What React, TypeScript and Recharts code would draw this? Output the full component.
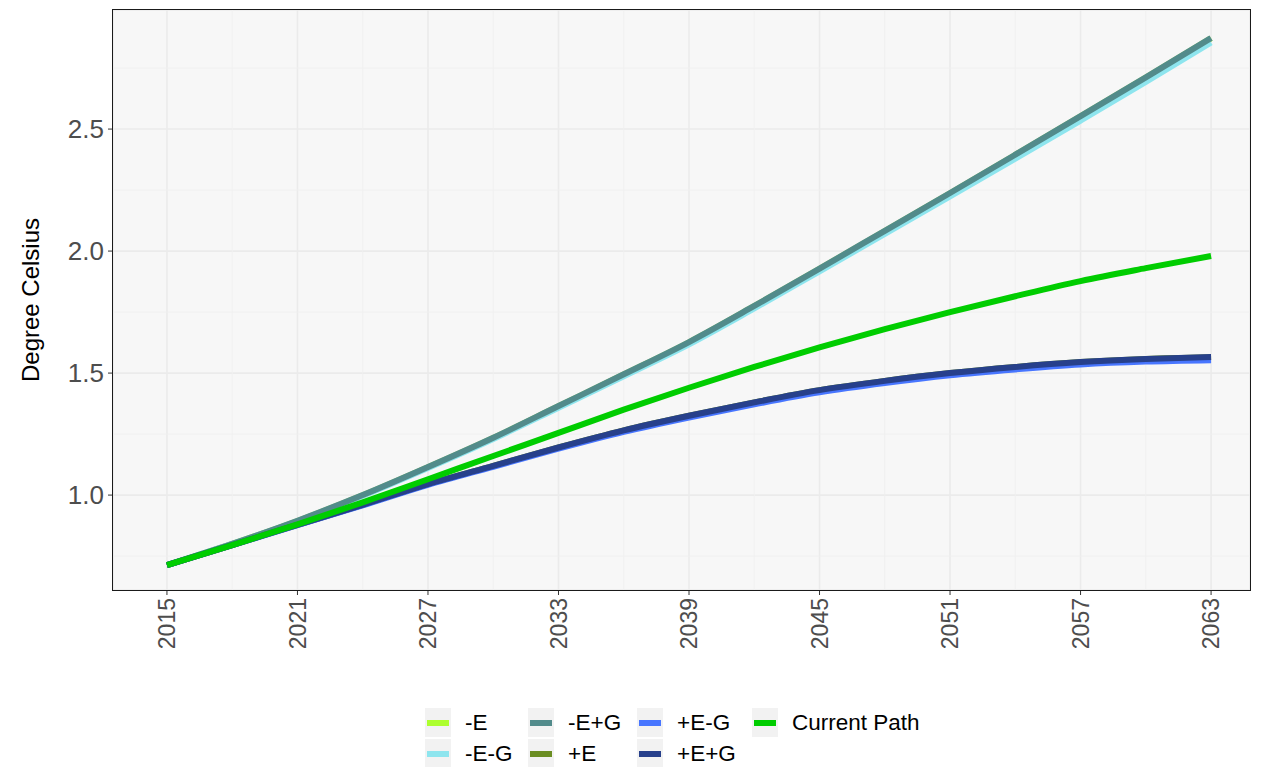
import React from 'react';
import { LineChart, Line, XAxis, YAxis, CartesianGrid, ReferenceLine } from 'recharts';

// years read every 3 years, values in degree Celsius
const years = [2015, 2018, 2021, 2024, 2027, 2030, 2033, 2036, 2039, 2042, 2045, 2048, 2051, 2054, 2057, 2060, 2063];

const minusE = [0.713, 0.8, 0.894, 0.999, 1.114, 1.234, 1.364, 1.494, 1.626, 1.774, 1.927, 2.082, 2.237, 2.394, 2.552, 2.711, 2.872];
const minusEminusG = [0.713, 0.8, 0.893, 0.997, 1.111, 1.23, 1.358, 1.487, 1.618, 1.765, 1.917, 2.07, 2.224, 2.379, 2.535, 2.693, 2.855];
const minusEplusG = [0.713, 0.8, 0.895, 1.0, 1.115, 1.235, 1.365, 1.495, 1.627, 1.775, 1.928, 2.083, 2.238, 2.395, 2.553, 2.712, 2.873];
const plusE = [0.713, 0.795, 0.878, 0.96, 1.045, 1.12, 1.195, 1.265, 1.325, 1.38, 1.43, 1.468, 1.5, 1.525, 1.545, 1.558, 1.565];
const plusEminusG = [0.713, 0.795, 0.877, 0.958, 1.042, 1.116, 1.19, 1.259, 1.318, 1.372, 1.421, 1.459, 1.491, 1.515, 1.535, 1.547, 1.553];
const plusEplusG = [0.713, 0.795, 0.878, 0.96, 1.045, 1.12, 1.195, 1.265, 1.325, 1.38, 1.43, 1.468, 1.5, 1.525, 1.545, 1.558, 1.566];
const currentPath = [0.713, 0.795, 0.88, 0.97, 1.065, 1.16, 1.255, 1.35, 1.44, 1.525, 1.605, 1.68, 1.75, 1.815, 1.877, 1.93, 1.98];

const xTicks = [2015, 2021, 2027, 2033, 2039, 2045, 2051, 2057, 2063];
const xMinor = [2018, 2024, 2030, 2036, 2042, 2048, 2054, 2060];
const yTicks = [1.0, 1.5, 2.0, 2.5];
const yMinor = [0.75, 1.25, 1.75, 2.25, 2.75];

const seriesList = [
  { key: 'mE', name: '-E', color: '#ADFF2F', values: minusE },
  { key: 'mEmG', name: '-E-G', color: '#8EE5EE', values: minusEminusG },
  { key: 'mEpG', name: '-E+G', color: '#528B8B', values: minusEplusG },
  { key: 'pE', name: '+E', color: '#6B8E23', values: plusE },
  { key: 'pEmG', name: '+E-G', color: '#4876FF', values: plusEminusG },
  { key: 'pEpG', name: '+E+G', color: '#27408B', values: plusEplusG },
  { key: 'cur', name: 'Current Path', color: '#00CD00', values: currentPath },
];

const data = years.map((year, i) => {
  const row: Record<string, number> = { year };
  seriesList.forEach(s => { row[s.key] = s.values[i]; });
  return row;
});

const FONT = '"Liberation Sans", Arial, sans-serif';

const XTick = ({ x, y, payload }: any) => (
  <text
    x={x}
    y={y}
    transform={`rotate(-90, ${x}, ${y})`}
    textAnchor="end"
    dy="0.35em"
    fill="#4D4D4D"
    fontSize={23}
    fontFamily={FONT}
  >
    {payload.value}
  </text>
);

// legend laid out in columns like the ggplot guide
const legendCols = [
  ['-E', '-E-G'],
  ['-E+G', '+E'],
  ['+E-G', '+E+G'],
  ['Current Path'],
];
const legendLeft = [425, 528, 637, 752];

const App: React.FC = () => {
  return (
    <div style={{ position: 'absolute', left: 0, top: 0, width: 1267, height: 767, background: '#fff', fontFamily: FONT }}>
      <LineChart
        width={1267}
        height={767}
        data={data}
        margin={{ top: 10, right: 17, left: 0, bottom: 87 }}
      >
        <CartesianGrid fill="#F7F7F7" stroke="#EBEBEB" strokeWidth={1.6} />
        {xMinor.map(v => (
          <ReferenceLine key={'xm' + v} x={v} stroke="#EFEFEF" strokeWidth={0.9} />
        ))}
        {yMinor.map(v => (
          <ReferenceLine key={'ym' + v} y={v} stroke="#EFEFEF" strokeWidth={0.9} />
        ))}
        <XAxis
          dataKey="year"
          type="number"
          domain={[2012.52, 2064.79]}
          ticks={xTicks}
          height={90}
          tick={<XTick />}
          tickSize={5}
          tickMargin={3}
          axisLine={false}
          tickLine={{ stroke: '#333' }}
          allowDataOverflow
        />
        <YAxis
          type="number"
          domain={[0.611, 2.988]}
          ticks={yTicks}
          width={113}
          tickFormatter={(v: number) => v.toFixed(1)}
          tick={{ fill: '#4D4D4D', fontSize: 26, fontFamily: FONT }}
          tickSize={5}
          tickMargin={4}
          axisLine={false}
          tickLine={{ stroke: '#333' }}
          allowDataOverflow
          label={{
            value: 'Degree Celsius',
            angle: -90,
            position: 'insideLeft',
            offset: 30,
            style: { fill: '#000', fontSize: 24, fontFamily: FONT, textAnchor: 'middle' },
          }}
        />
        {seriesList.map(s => (
          <Line
            key={s.key}
            type="monotone"
            dataKey={s.key}
            name={s.name}
            stroke={s.color}
            strokeWidth={6}
            dot={false}
            activeDot={false}
            isAnimationActive={false}
          />
        ))}
      </LineChart>

      {/* panel border */}
      <div style={{
        position: 'absolute', left: 112, top: 9, width: 1139, height: 582,
        border: '1.5px solid #1a1a1a', boxSizing: 'border-box', pointerEvents: 'none'
      }} />

      {/* legend */}
      {legendCols.map((col, ci) => (
        <div key={ci} style={{ position: 'absolute', left: legendLeft[ci], top: 708 }}>
          {col.map(name => {
            const s = seriesList.find(d => d.name === name)!;
            return (
              <div key={name} style={{ display: 'flex', alignItems: 'center', height: 29, marginBottom: 2 }}>
                <div style={{
                  width: 26, height: 29, background: '#F2F2F2',
                  display: 'flex', alignItems: 'center', justifyContent: 'center'
                }}>
                  <div style={{ width: 22, height: 6, background: s.color }} />
                </div>
                <span style={{ marginLeft: 14, fontSize: 22.5, color: '#000', whiteSpace: 'nowrap' }}>{name}</span>
              </div>
            );
          })}
        </div>
      ))}
    </div>
  );
};

export default App;
